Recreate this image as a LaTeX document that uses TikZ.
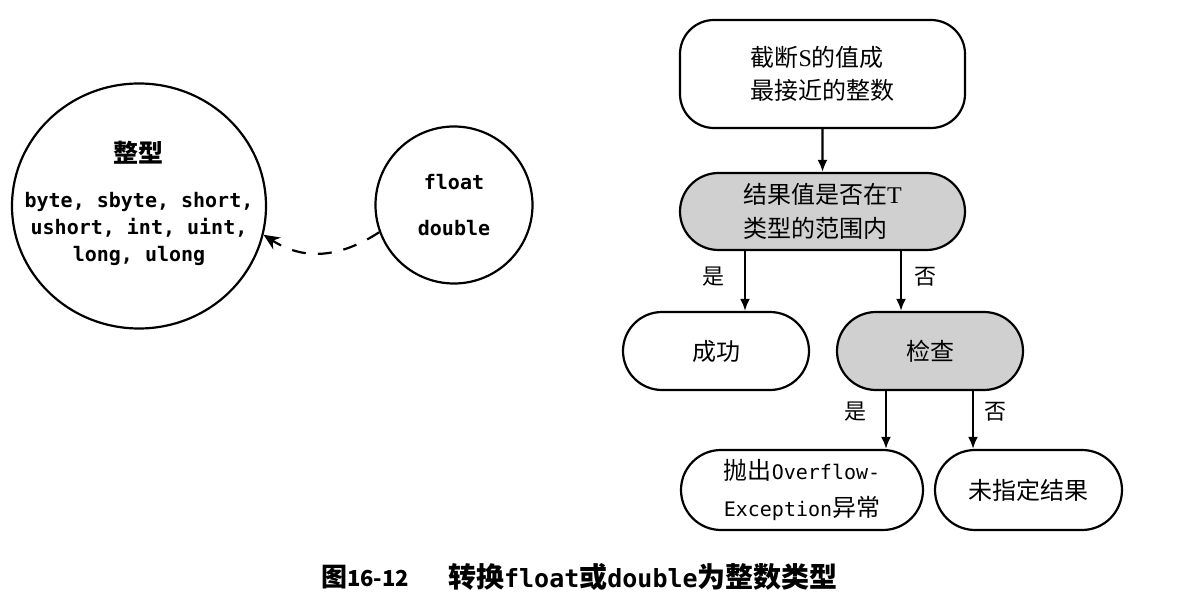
\documentclass[tikz,border=0pt]{standalone}
\usepackage{fontspec}
\setmainfont{Liberation Serif}
\newfontfamily\cjkf{Noto Sans CJK SC}
\newfontfamily\monof{DejaVu Sans Mono}
\usetikzlibrary{arrows.meta,shapes.misc,shapes.geometric}
\definecolor{boxgray}{RGB}{208,208,208}
\begin{document}
\begin{tikzpicture}[x=0.5pt,y=-0.5pt,
  line width=1.1pt,
  box/.style={draw, rounded rectangle, inner sep=0pt, align=left,
    font=\cjkf\fontsize{12}{17}\selectfont},
  graybox/.style={box, fill=boxgray},
  arr/.style={-{Latex[length=6pt,width=5pt]}},
  lbl/.style={font=\cjkf\fontsize{11}{13}\selectfont, inner sep=0pt},
  mono/.style={font=\monof\bfseries\fontsize{10}{13.5}\selectfont, align=center, inner sep=0pt}]

\useasboundingbox[fill=white] (0,0) rectangle (1189,604);

% left part
\node[draw, ellipse, minimum width=127pt, minimum height=122.5pt, inner sep=0pt] (big) at (139,206) {};
\node[mono] (bigtxt) at (139,203)
  {{\cjkf\bfseries\fontsize{12.5}{14}\selectfont 整型}\\[9pt]
   byte, sbyte, short,\\ ushort, int, uint,\\ long, ulong};
\node[draw, circle, minimum size=78.5pt, inner sep=0pt] (sm) at (454,205) {};
\node[mono, font=\monof\bfseries\fontsize{10}{12}\selectfont] (smtxt) at (454,205) {float\\[11pt] double};
\draw[dash pattern=on 7pt off 6pt, -{Stealth[length=8pt,width=7pt]}]
  (sm.200) .. controls +(-40,26) and +(40,26) .. (big.347);

% flowchart
\node[draw, rectangle, rounded corners=17pt, minimum width=142.5pt, minimum height=54pt,
  inner sep=0pt, align=left, font=\cjkf\fontsize{12}{16.5}\selectfont] (b1) at (822.5,74)
  {截断{\rmfamily S}的值成\\最接近的整数};
\node[graybox, minimum width=142.5pt, minimum height=38.5pt] (b2) at (822.5,211.5)
  {结果值是否在{\rmfamily T}\\类型的范围内};
\node[box, minimum width=93pt, minimum height=39pt] (succ) at (716,351) {成功};
\node[graybox, minimum width=93pt, minimum height=39pt] (chk) at (930,351) {检查};
\node[box, minimum width=121pt, minimum height=40pt, font=\cjkf\fontsize{12}{18.5}\selectfont] (thr) at (802,490)
  {抛出{\monof\fontsize{10}{18.5}\selectfont Overflow-}\\{\monof\fontsize{10}{18.5}\selectfont Exception}异常};
\node[box, minimum width=93.5pt, minimum height=40pt] (uns) at (1028.5,490) {未指定结果};

\coordinate (xa) at (745,0);
\coordinate (xb) at (901,0);
\coordinate (xc) at (886,0);
\coordinate (xd) at (973,0);

\draw[arr] (b1) -- (b2);
\draw[arr] (b2.south -| xa) -- (succ.north -| xa);
\draw[arr] (b2.south -| xb) -- (chk.north -| xb);
\draw[arr] (chk.south -| xc) -- (thr.north -| xc);
\draw[arr] (chk.south -| xd) -- (uns.north -| xd);

\node[lbl] (l1) at (713,277) {是};
\node[lbl] (l2) at (925,277) {否};
\node[lbl] (l3) at (855,412) {是};
\node[lbl] (l4) at (995,412) {否};

% caption
\node[anchor=west, inner sep=0pt, font=\cjkf\bfseries\fontsize{13}{15}\selectfont] (cap1) at (320,577)
  {图{\fontsize{11}{15}\selectfont 16-12}};
\node[anchor=west, inner sep=0pt, font=\cjkf\bfseries\fontsize{14}{15}\selectfont] (cap2) at (447,577)
  {转换{\monof\bfseries\fontsize{12.5}{15}\selectfont float}或{\monof\bfseries\fontsize{12.5}{15}\selectfont double}为整数类型};
\end{tikzpicture}
\end{document}
